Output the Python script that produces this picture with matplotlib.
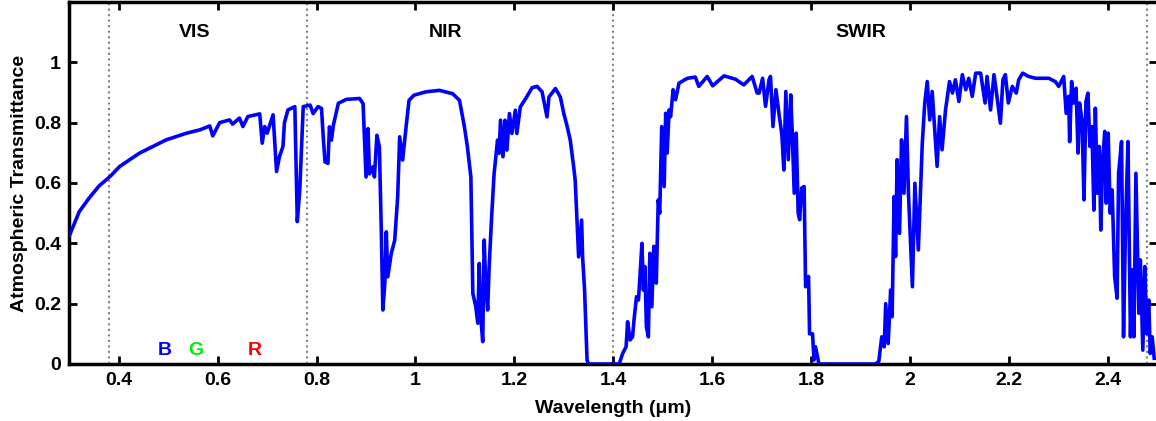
import numpy as np
import matplotlib
matplotlib.use('Agg')
import matplotlib.pyplot as plt
from matplotlib.ticker import FuncFormatter

plt.rcParams['font.family'] = ['Liberation Sans', 'DejaVu Sans']
plt.rcParams['font.weight'] = 'bold'

# visible part, smooth rise + O2 / H2O lines
vis_wl = [0.300, 0.320, 0.340, 0.360, 0.382, 0.402, 0.442, 0.496, 0.537, 0.564,
          0.584, 0.590, 0.604, 0.624, 0.630, 0.644, 0.651, 0.661, 0.685, 0.690,
          0.695, 0.700, 0.712, 0.719, 0.725, 0.732, 0.735, 0.742, 0.756, 0.761,
          0.766]
vis_t = [0.425, 0.505, 0.550, 0.590, 0.621, 0.655, 0.699, 0.743, 0.765, 0.776,
         0.789, 0.756, 0.800, 0.809, 0.795, 0.815, 0.787, 0.820, 0.829, 0.732,
         0.787, 0.765, 0.826, 0.638, 0.688, 0.721, 0.800, 0.842, 0.853, 0.472,
         0.577]

# near infrared
nir_wl = [0.773, 0.787, 0.793, 0.803, 0.810, 0.813, 0.817, 0.823, 0.826, 0.830,
          0.834, 0.844, 0.860, 0.887, 0.894, 0.900, 0.904, 0.907, 0.914, 0.917,
          0.922, 0.927, 0.931, 0.934, 0.938, 0.941, 0.944, 0.951, 0.958, 0.964,
          0.968, 0.974, 0.981, 0.987, 0.997, 1.008, 1.021, 1.048, 1.075, 1.089,
          1.099, 1.105, 1.112, 1.116, 1.122, 1.126, 1.129, 1.132, 1.136, 1.139,
          1.142, 1.146, 1.149, 1.154, 1.159, 1.166, 1.169, 1.172, 1.177, 1.181,
          1.185, 1.190, 1.195, 1.202, 1.205, 1.212, 1.223, 1.236, 1.246, 1.256,
          1.266, 1.270, 1.283, 1.293, 1.300, 1.307, 1.313, 1.320, 1.323, 1.330,
          1.336, 1.338, 1.342, 1.347, 1.350, 1.404]
nir_t = [0.853, 0.858, 0.830, 0.853, 0.847, 0.764, 0.670, 0.665, 0.786, 0.742,
         0.792, 0.864, 0.877, 0.880, 0.863, 0.620, 0.780, 0.630, 0.654, 0.620,
         0.758, 0.720, 0.433, 0.179, 0.267, 0.438, 0.289, 0.366, 0.410, 0.554,
         0.753, 0.676, 0.786, 0.874, 0.891, 0.896, 0.902, 0.907, 0.896, 0.874,
         0.786, 0.720, 0.620, 0.234, 0.190, 0.135, 0.333, 0.157, 0.074, 0.411,
         0.267, 0.179, 0.322, 0.488, 0.631, 0.742, 0.698, 0.808, 0.687, 0.808,
         0.709, 0.830, 0.764, 0.841, 0.764, 0.852, 0.880, 0.916, 0.920, 0.902,
         0.819, 0.885, 0.913, 0.885, 0.830, 0.786, 0.742, 0.653, 0.609, 0.355,
         0.477, 0.355, 0.245, 0.013, 0.0, 0.0]

# first short-wave infrared window
swir1_wl = [1.412, 1.419, 1.426, 1.429, 1.434, 1.439, 1.442, 1.447, 1.451, 1.454,
            1.458, 1.461, 1.464, 1.467, 1.471, 1.474, 1.478, 1.482, 1.487, 1.491,
            1.494, 1.498, 1.503, 1.506, 1.509, 1.513, 1.516, 1.521, 1.526, 1.533,
            1.550, 1.566, 1.573, 1.590, 1.601, 1.624, 1.647, 1.664, 1.681, 1.691,
            1.695, 1.702, 1.708, 1.715, 1.718, 1.723, 1.729, 1.735, 1.741, 1.745,
            1.749, 1.754, 1.759, 1.762, 1.766, 1.770, 1.774, 1.777, 1.781, 1.786,
            1.789, 1.795, 1.797, 1.803, 1.806, 1.809, 1.816, 1.930]
swir1_t = [0.0, 0.035, 0.057, 0.140, 0.080, 0.090, 0.146, 0.223, 0.212, 0.290,
           0.400, 0.245, 0.323, 0.124, 0.090, 0.367, 0.190, 0.390, 0.268, 0.544,
           0.500, 0.787, 0.588, 0.831, 0.699, 0.842, 0.820, 0.909, 0.876, 0.931,
           0.947, 0.951, 0.920, 0.953, 0.922, 0.955, 0.944, 0.925, 0.953, 0.898,
           0.898, 0.947, 0.854, 0.942, 0.953, 0.787, 0.909, 0.831, 0.760, 0.643,
           0.903, 0.677, 0.892, 0.765, 0.566, 0.765, 0.500, 0.478, 0.583, 0.588,
           0.256, 0.290, 0.100, 0.100, 0.013, 0.057, 0.0, 0.0]

# second short-wave infrared window
swir2_wl = [1.937, 1.943, 1.948, 1.951, 1.956, 1.961, 1.964, 1.968, 1.971, 1.974,
            1.979, 1.983, 1.988, 1.993, 1.997, 2.005, 2.010, 2.017, 2.025, 2.030,
            2.035, 2.040, 2.045, 2.055, 2.060, 2.065, 2.072, 2.080, 2.086, 2.092,
            2.099, 2.106, 2.113, 2.119, 2.126, 2.133, 2.143, 2.152, 2.156, 2.163,
            2.170, 2.176, 2.183, 2.188, 2.193, 2.199, 2.207, 2.215, 2.220, 2.228,
            2.240, 2.254, 2.267, 2.281, 2.294, 2.301, 2.311, 2.316, 2.321, 2.323,
            2.327, 2.331, 2.336, 2.340, 2.343, 2.348, 2.352, 2.356, 2.360, 2.364,
            2.368, 2.372, 2.375, 2.379, 2.383, 2.386, 2.390, 2.394, 2.397, 2.401,
            2.405, 2.409, 2.414, 2.419, 2.422, 2.428, 2.432, 2.436, 2.441, 2.446,
            2.449, 2.453, 2.457, 2.463, 2.466, 2.471, 2.475, 2.479, 2.483, 2.486,
            2.490, 2.494]
swir2_t = [0.008, 0.090, 0.057, 0.200, 0.068, 0.245, 0.157, 0.555, 0.356, 0.677,
           0.433, 0.743, 0.566, 0.820, 0.566, 0.256, 0.599, 0.378, 0.732, 0.865,
           0.936, 0.809, 0.903, 0.655, 0.820, 0.710, 0.842, 0.936, 0.898, 0.942,
           0.870, 0.959, 0.909, 0.947, 0.887, 0.964, 0.964, 0.865, 0.953, 0.842,
           0.959, 0.887, 0.798, 0.942, 0.959, 0.865, 0.920, 0.898, 0.942, 0.964,
           0.953, 0.947, 0.947, 0.947, 0.936, 0.920, 0.953, 0.831, 0.887, 0.737,
           0.936, 0.865, 0.914, 0.699, 0.865, 0.809, 0.544, 0.870, 0.898, 0.721,
           0.787, 0.510, 0.848, 0.566, 0.721, 0.444, 0.677, 0.771, 0.533, 0.765,
           0.500, 0.577, 0.290, 0.218, 0.632, 0.737, 0.090, 0.455, 0.737, 0.090,
           0.312, 0.090, 0.632, 0.168, 0.345, 0.046, 0.323, 0.100, 0.212, 0.035,
           0.090, 0.019]

band_edges = [0.38, 0.78, 1.40, 2.48]
band_names = ['VIS', 'NIR', 'SWIR']
band_label_x = [0.553, 1.06, 1.90]
rgb_letters = ['B', 'G', 'R']
rgb_x = [0.493, 0.556, 0.675]
rgb_colors = ['#0000ff', '#00ee00', '#ff0000']

wl = np.array(vis_wl + nir_wl + swir1_wl + swir2_wl)
trans = np.array(vis_t + nir_t + swir1_t + swir2_t)

fig = plt.figure(figsize=(11.56, 4.21), dpi=100)
ax = fig.add_axes([0.060, 0.1354, 0.941, 0.860])

for xe in band_edges:
    ax.axvline(xe, color='#808080', linestyle=':', linewidth=1.5, zorder=1)

ax.plot(wl, trans, color='#0000ff', linewidth=2.6, zorder=3)

for name, xl in zip(band_names, band_label_x):
    ax.text(xl, 1.10, name, ha='center', va='center', fontsize=14, fontweight='bold')
for letter, xl, c in zip(rgb_letters, rgb_x, rgb_colors):
    ax.text(xl, 0.046, letter, ha='center', va='center', fontsize=14,
            fontweight='bold', color=c)

ax.set_xlim(0.3, 2.5)
ax.set_ylim(0, 1.2)
ax.set_xticks(np.arange(0.4, 2.41, 0.2))
ax.set_yticks(np.arange(0, 1.01, 0.2))
fmt = FuncFormatter(lambda v, p: '%g' % round(v, 2))
ax.xaxis.set_major_formatter(fmt)
ax.yaxis.set_major_formatter(fmt)
ax.tick_params(direction='in', top=True, right=True, length=6, width=2,
               labelsize=14, pad=6)
for lab in ax.get_xticklabels() + ax.get_yticklabels():
    lab.set_fontweight('bold')
for sp in ax.spines.values():
    sp.set_linewidth(2.5)

ax.set_xlabel('Wavelength (\u03bcm)', fontsize=14, fontweight='bold', labelpad=8)
ax.set_ylabel('Atmospheric Transmittance', fontsize=14, fontweight='bold', labelpad=4)

fig.savefig('out.png', dpi=100)
